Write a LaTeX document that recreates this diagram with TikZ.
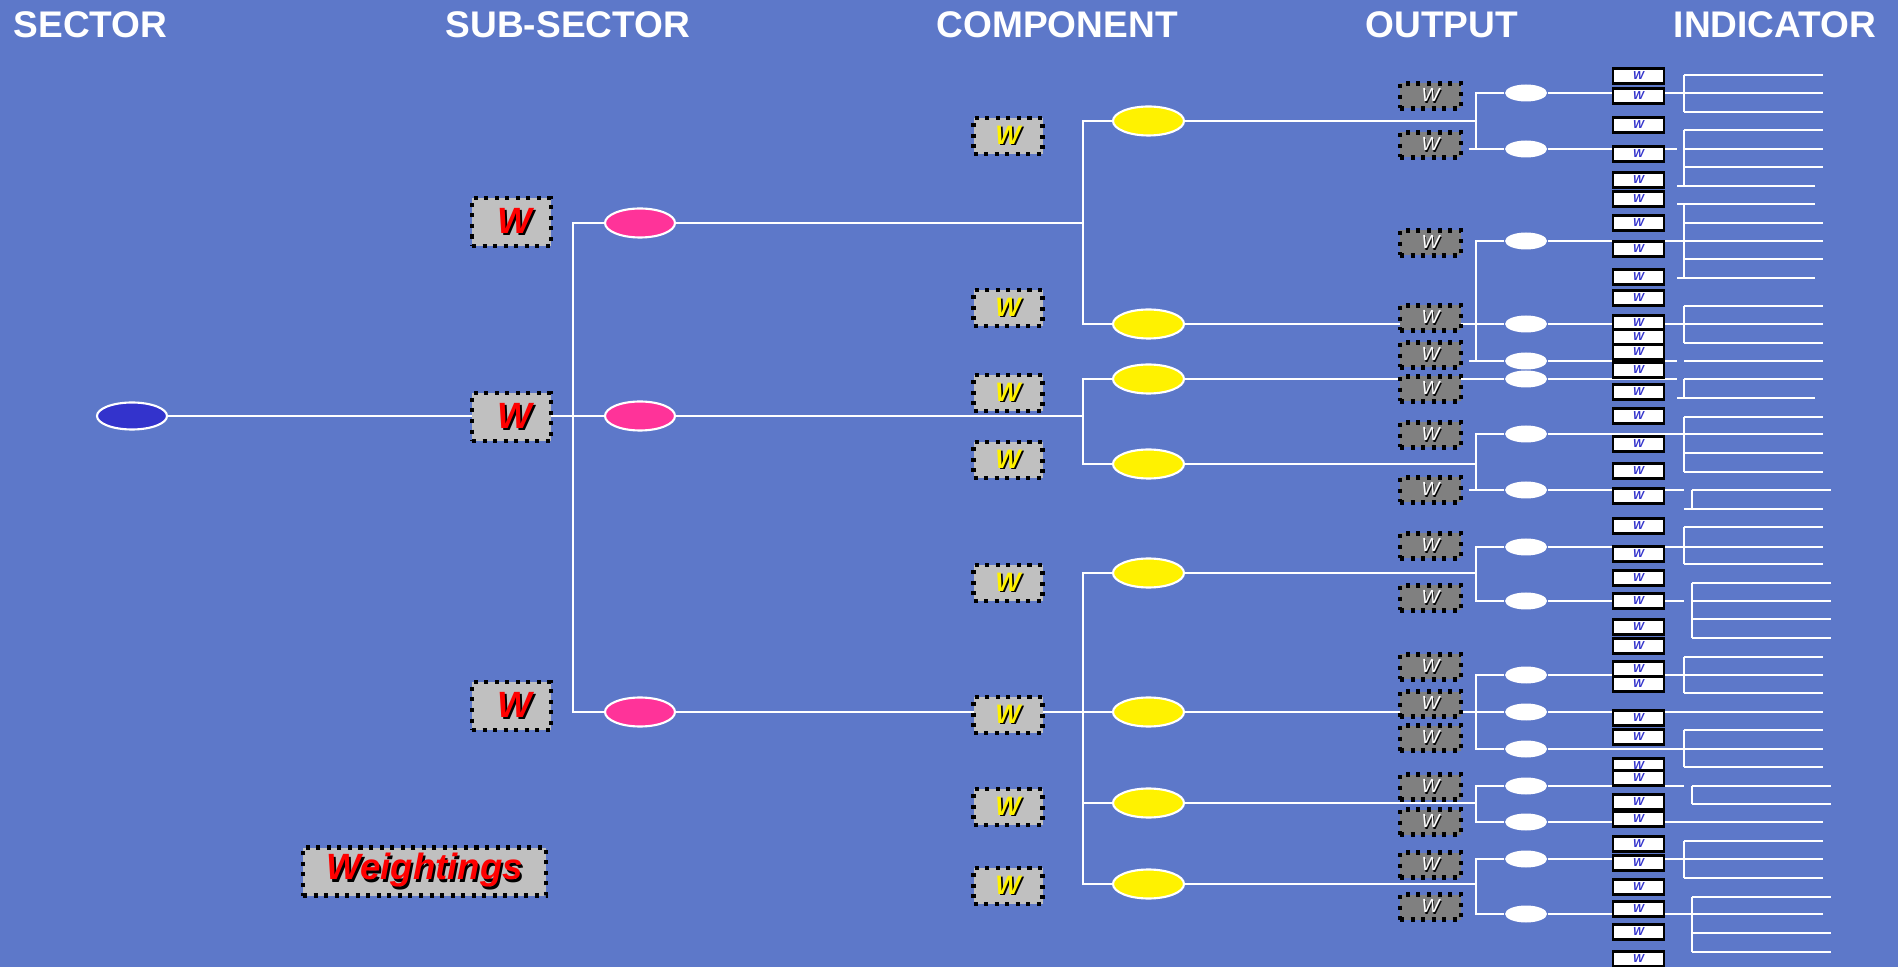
\documentclass[tikz,border=0pt]{standalone}
\usepackage{fontspec}
\setmainfont{Liberation Sans}
\usetikzlibrary{shapes.geometric}

\definecolor{bgblue}{RGB}{93,120,201}
\definecolor{secblue}{RGB}{51,51,204}
\definecolor{subpink}{RGB}{255,51,153}
\definecolor{boxgrey}{RGB}{192,192,192}
\definecolor{darkgrey}{RGB}{128,128,128}
\definecolor{wblue}{RGB}{51,51,204}

\newcommand\shadowW[2]{\makebox[0pt][l]{\kern0.06em\raisebox{-0.06em}{\color{black}#2}}{\color{#1}#2}}

\pgfdeclarelayer{bg}
\pgfsetlayers{bg,main}

\tikzset{
  wire/.style={draw=white, line width=0.7pt},
  head/.style={anchor=base west, inner sep=0pt, text=white, font=\fontsize{10.55}{12}\selectfont\bfseries},
  dotbox/.style={rectangle, draw=black, line width=1.15pt, dash pattern=on 1.15pt off 1.85pt, inner sep=0pt},
  subw/.style={dotbox, fill=boxgrey, minimum width=7.9mm, minimum height=4.8mm, font=\fontsize{10.4}{11}\selectfont\bfseries\itshape},
  compw/.style={dotbox, fill=boxgrey, minimum width=6.9mm, minimum height=3.6mm, font=\fontsize{7.6}{8}\selectfont\bfseries\itshape},
  outw/.style={dotbox, fill=darkgrey, minimum width=6.1mm, minimum height=2.5mm, font=\fontsize{5.4}{6}\selectfont\itshape},
  indw/.style={rectangle, draw=black, line width=0.6pt, fill=white, inner sep=0pt, minimum width=5.1mm, minimum height=1.5mm, text=wblue, font=\fontsize{3.3}{3.5}\selectfont\bfseries\itshape},
  blob/.style={ellipse, draw=white, line width=0.6pt, inner sep=0pt},
  secell/.style={blob, fill=secblue, minimum width=7mm, minimum height=2.7mm},
  subell/.style={blob, fill=subpink, minimum width=7mm, minimum height=2.9mm},
  compell/.style={blob, fill=yellow, minimum width=7.1mm, minimum height=2.9mm},
  outell/.style={ellipse, fill=white, inner sep=0pt, minimum width=4.2mm, minimum height=1.7mm}
}

\begin{document}
\begin{tikzpicture}[x=0.1mm, y=-0.1mm]
  \begin{pgfonlayer}{bg}
    \fill[bgblue] (0,0) rectangle (1898,967);
  \end{pgfonlayer}
  \useasboundingbox (0,0) rectangle (1898,967);

  % column titles
  \node[head] (hsec) at (13,38) {SECTOR};
  \node[head] (hsub) at (445,38) {SUB-SECTOR};
  \node[head] (hcomp) at (936,38) {COMPONENT};
  \node[head] (hout) at (1365,38) {OUTPUT};
  \node[head] (hind) at (1673,38) {INDICATOR};

  % bus positions
  \coordinate (xS) at (573,0);
  \coordinate (xK) at (1083,0);
  \coordinate (xO) at (1476,0);
  \coordinate (xA) at (1823,0);
  \coordinate (xG) at (1677,0);
  \coordinate (xI) at (1684,0);

  % sector and sub-sectors
  \node[secell] (sec) at (132,416) {};
  \node[subw] (sw1) at (511.5,222) {\kern2pt\shadowW{red}{W}};
  \node[subw] (sw2) at (511.5,417) {\kern2pt\shadowW{red}{W}};
  \node[subw] (sw3) at (511.5,706) {\kern2pt\shadowW{red}{W}};
  \node[subell] (s1) at (640,223) {};
  \node[subell] (s2) at (640,416) {};
  \node[subell] (s3) at (640,712) {};
  \node[subw, minimum width=24.3mm] (legend) at (424.5,871.5) {\shadowW{red}{Weightings}};

  % components
  \foreach \y [count=\k] in {136,308,393,460,583,715,807,886}
    \node[compw] (cw\k) at (1008,\y) {\shadowW{yellow}{W}};
  \foreach \y [count=\k] in {121,324,379,464,573,712,803,884}
    \node[compell] (c\k) at (1148.5,\y) {};

  % outputs
  \foreach \y [count=\k] in {96,145,243,318,355,389,435,490,546,598,667,704,738,787,822,865,907}
    \node[outw] (ow\k) at (1430.5,\y) {\shadowW{white}{W}};
  \foreach \y [count=\k] in {93,149,241,324,361,379,434,490,547,601,675,712,749,786,822,859,914}
    \node[outell] (o\k) at (1526,\y) {};

  % indicators
  \foreach \y [count=\k] in {76,96,125,154,180,199,223,249,277,298,323,337,352,370,392,416,444,471,496,526,554,578,601,627,646,669,684,718,737,766,778,802,819,844,863,887,909,932,959}
    \node[indw] (i\k) at (1638.5,\y) {W};

  \begin{pgfonlayer}{bg}
    % sector to sub-sectors
    \draw[wire] (sec.east) -- (sec -| xS);
    \draw[wire] (s1.west) -- (s1 -| xS) -- (s3 -| xS) -- (s3.west);
    \draw[wire] (s2.west) -- (s2 -| xS);
    % sub-sectors to components
    \foreach \s in {1,2,3}
      \draw[wire] (s\s.east) -- (s\s -| xK);
    \draw[wire] (c1.west) -- (c1 -| xK) -- (c2 -| xK) -- (c2.west);
    \draw[wire] (c3.west) -- (c3 -| xK) -- (c4 -| xK) -- (c4.west);
    \draw[wire] (c5.west) -- (c5 -| xK) -- (c8 -| xK) -- (c8.west);
    \draw[wire] (c6.west) -- (c6 -| xK);
    \draw[wire] (c7.west) -- (c7 -| xK);
    % components to outputs
    \foreach \c/\a/\b in {1/1/2,4/7/8,5/9/10,7/14/15,8/16/17} {
      \draw[wire] (c\c.east) -- (c\c -| xO);
      \draw[wire] (o\a.west) -- (o\a -| xO) -- (o\b -| xO) -- (o\b.west);
    }
    \foreach \c/\a/\b/\m in {2/3/5/4,6/11/13/12} {
      \draw[wire] (c\c.east) -- (o\m.west);
      \draw[wire] (o\a.west) -- (o\a -| xO) -- (o\b -| xO) -- (o\b.west);
    }
    \draw[wire] (c3.east) -- (o6.west);
    \foreach \b in {2,5,8}
      \draw[wire] ([xshift=-2pt]o\b -| xO) -- (o\b -| xO);
    % outputs to indicators
    \foreach \k in {1,3,4,7,9,11,12,13,15,16,17}
      \draw[wire] (o\k.east) -- (o\k -| xA);
    \foreach \k in {2,5,6}
      \draw[wire] (o\k.east) -- (o\k -| xG);
    \foreach \k in {8,10,14}
      \draw[wire] (o\k.east) -- (o\k -| xI);
    % indicator fans
    \foreach \x/\t/\b in {1684/75/112,1684/130/186,1684/204/278,1684/306/343,1684/379/398,1684/417/472,1684/527/564,1684/657/693,1684/730/767,1684/841/878,1692/490/509,1692/583/638,1692/786/804,1692/897/952}
      \draw[wire] (\x,\t) -- (\x,\b);
    \foreach \y in {75,112,130,149,167,223,259,306,343,361,379,417,453,472,509,527,564,657,693,730,767,841,878}
      \draw[wire] (1684,\y) -- (1823,\y);
    \foreach \y in {186,204,278,398}
      \draw[wire] (1677,\y) -- (1815,\y);
    \foreach \y in {490,583,601,619,638,786,804,897,933,952}
      \draw[wire] (1692,\y) -- (1831,\y);
  \end{pgfonlayer}
\end{tikzpicture}
\end{document}
